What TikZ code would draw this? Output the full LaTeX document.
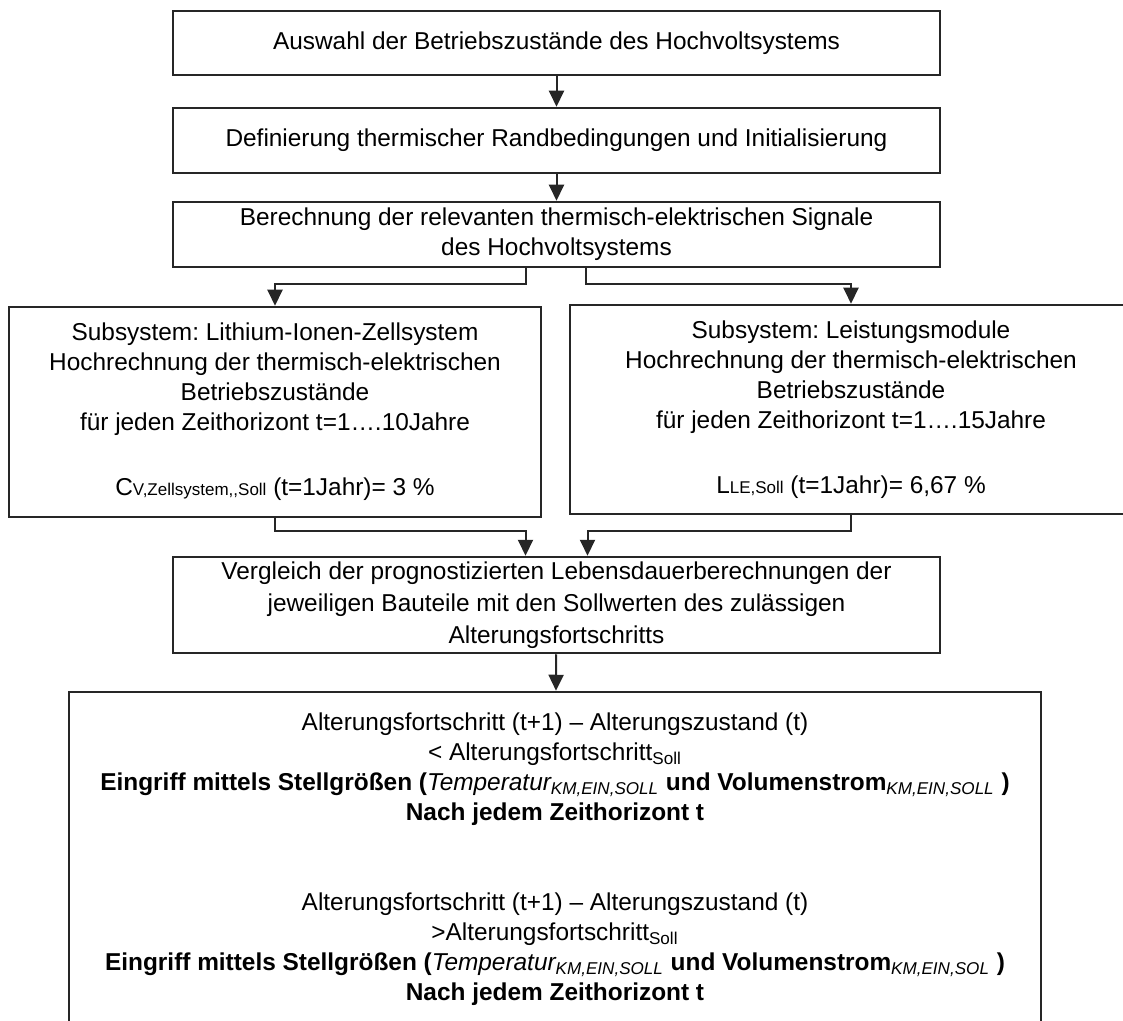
\documentclass[tikz,border=0pt]{standalone}
\usepackage{fontspec}
\setmainfont{Liberation Sans}
\usetikzlibrary{arrows.meta}
\frenchspacing

\newcommand{\klein}[1]{{\fontsize{8.5}{10}\selectfont #1}}

\begin{document}
\begin{tikzpicture}[x=0.5pt, y=-0.5pt,
  font=\fontsize{12.2}{15}\selectfont,
  kasten/.style={draw=black!85, line width=1.25pt, align=center, inner sep=0pt},
  pfeil/.style={-{Triangle[width=7.5pt,length=8pt]}, draw=black!85, line width=1pt}]
\useasboundingbox (0,0) rectangle (1123,1021);
\clip (0,0) rectangle (1123,1021);
\node[kasten, minimum width=383.5pt, minimum height=32pt] (auswahl) at (556.5,43) {Auswahl der Betriebszustände des Hochvoltsystems};
\node[kasten, minimum width=383.5pt, minimum height=32.5pt] (randbed) at (556.5,140.5) {Definierung thermischer Randbedingungen und Initialisierung};
\node[kasten, minimum width=383.5pt, minimum height=32.5pt] (signale) at (556.5,234.5) {Berechnung der relevanten thermisch-elektrischen Signale\\ des Hochvoltsystems};
\node[kasten, minimum width=266pt, minimum height=105pt] (zellen) at (275,412) {Subsystem: Lithium-Ionen-Zellsystem\\ Hochrechnung der thermisch-elektrischen\\ Betriebszustände\\ für jeden Zeithorizont t=1….10Jahre\\[17.5pt] C\klein{V,Zellsystem,{},Soll} (t=1Jahr)= 3 \%};
\node[kasten, minimum width=281pt, minimum height=104.5pt] (module) at (851,409.5) {Subsystem: Leistungsmodule\\ Hochrechnung der thermisch-elektrischen\\ Betriebszustände\\ für jeden Zeithorizont t=1….15Jahre\\[17.5pt] L\klein{LE,Soll} (t=1Jahr)= 6,67 \%};
\node[kasten, minimum width=383.5pt, minimum height=48pt, font=\fontsize{12.2}{16}\selectfont] (vergleich) at (556.5,605) {Vergleich der prognostizierten Lebensdauerberechnungen der\\ jeweiligen Bauteile mit den Sollwerten des zulässigen\\ Alterungsfortschritts};
\node[kasten, minimum width=486pt, minimum height=167.5pt] (eingriff) at (555,859.5) {Alterungsfortschritt (t+1) – Alterungszustand (t)\\ < Alterungsfortschritt\textsubscript{Soll}\\ \textbf{Eingriff mittels Stellgrößen (}\textit{Temperatur\textsubscript{KM,EIN,SOLL}} \textbf{und Volumenstrom}\textit{\textsubscript{KM,EIN,SOLL}} \textbf{)}\\ \textbf{Nach jedem Zeithorizont t}\\[30pt] Alterungsfortschritt (t+1) – Alterungszustand (t)\\ >Alterungsfortschritt\textsubscript{Soll}\\ \textbf{Eingriff mittels Stellgrößen (}\textit{Temperatur\textsubscript{KM,EIN,SOLL}} \textbf{und Volumenstrom}\textit{\textsubscript{KM,EIN,SOL}} \textbf{)}\\ \textbf{Nach jedem Zeithorizont t}};
\draw[pfeil] (auswahl) -- (randbed);
\draw[pfeil] (randbed) -- (signale);
\draw[pfeil] ([xshift=-15.5pt]signale.south) -- ++(0,16) -| (zellen.north);
\draw[pfeil] ([xshift=14.5pt]signale.south) -- ++(0,16) -| (module.north);
\draw[pfeil] (zellen.south) -- ++(0,13) -| ([xshift=-15.5pt]vergleich.north);
\draw[pfeil] (module.south) -- ++(0,16) -| ([xshift=15.5pt]vergleich.north);
\draw[pfeil] (vergleich) -- (eingriff);
\end{tikzpicture}
\end{document}
